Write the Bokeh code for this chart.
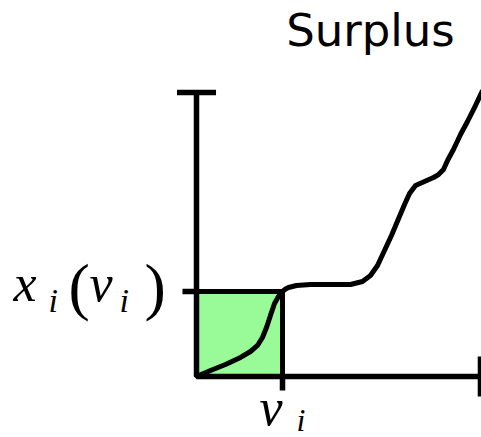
from bokeh.plotting import figure
from bokeh.models import Range1d
from bokeh.core.properties import value
from bokeh.embed import file_html
from bokeh.resources import INLINE

# Bid curve x_i(v) (value on the horizontal axis, allocation on the vertical one)
curve_v = [0.0, 0.163, 0.337, 0.512, 0.628, 0.709, 0.767, 0.814, 0.860, 0.907,
           0.953, 1.0, 1.035, 1.070, 1.163, 1.326, 1.558, 1.791, 1.930, 2.023,
           2.105, 2.186, 2.267, 2.360, 2.419, 2.477, 2.547, 2.651, 2.756, 2.814,
           2.872, 2.919, 2.988, 3.070, 3.151, 3.244, 3.326]
curve_x = [0.0, 0.071, 0.141, 0.224, 0.294, 0.365, 0.459, 0.576, 0.718, 0.859,
           0.941, 1.0, 1.029, 1.047, 1.071, 1.082, 1.082, 1.082, 1.118, 1.188,
           1.306, 1.482, 1.659, 1.882, 2.024, 2.153, 2.247, 2.294, 2.341, 2.376,
           2.435, 2.541, 2.671, 2.847, 3.0, 3.188, 3.365]

# Reported value and the resulting allocation
v_i = 1.0
x_i = 1.0

# Axis extents
axis_top = 3.341
axis_right = 3.302

PX_PER_X = 86.0
PX_PER_Y = 85.0
ORIGIN_PX = (196.0, 376.0)
W, H = 481, 437


def dx(px):
    return (px - ORIGIN_PX[0]) / PX_PER_X


def dy(py):
    return (ORIGIN_PX[1] - py) / PX_PER_Y


p = figure(width=W, height=H, output_backend="svg", toolbar_location=None,
           x_range=Range1d(dx(0), dx(W)), y_range=Range1d(dy(H), dy(0)),
           x_axis_type=None, y_axis_type=None, min_border=0,
           outline_line_color=None, background_fill_color="white",
           border_fill_color="white")
p.grid.visible = False

LW = 5.5
BLACK = "black"

# Surplus region under the allocation
p.quad(left=0, right=v_i, bottom=0, top=x_i, fill_color="#98fb98",
       line_color=BLACK, line_width=5)

# Axes with end caps
p.segment(x0=[0, 0], y0=[0, 0], x1=[0, axis_right], y1=[axis_top, 0],
          line_color=BLACK, line_width=LW)
p.segment(x0=[-0.227], y0=[axis_top], x1=[0.227], y1=[axis_top],
          line_color=BLACK, line_width=LW)
p.segment(x0=[axis_right], y0=[-0.235], x1=[axis_right], y1=[0.235],
          line_color=BLACK, line_width=LW)

# Ticks at x_i(v_i) and v_i
p.segment(x0=[-0.163, v_i], y0=[x_i, 0], x1=[0, v_i], y1=[x_i, -0.165],
          line_color=BLACK, line_width=LW)

# Allocation curve
p.line(curve_v, curve_x, line_color=BLACK, line_width=5, line_join="round")


def put(px, py, s, size, font, italic=False, align="left"):
    # py is the wanted baseline; the renderer draws "alphabetic" text a bit low
    p.text(x=[dx(px)], y=[dy(py - 0.385 * size)], text=[s], text_font=value(font),
           text_font_size=f"{size}px",
           text_font_style="italic" if italic else "normal",
           text_align=align, text_baseline="alphabetic", text_color=BLACK)


# Title
put(370, 47, "Surplus", 45, "DejaVu Sans", align="center")

SERIF = "Liberation Serif"

# Vertical tick label: x_i(v_i)
put(13, 303, "x", 52, SERIF, italic=True)
put(48, 313, "i", 34, SERIF, italic=True)
put(68, 311, "(", 64, SERIF)
put(89, 303, "v", 52, SERIF, italic=True)
put(119, 313, "i", 34, SERIF, italic=True)
put(144, 311, ")", 64, SERIF)

# Horizontal tick label: v_i
put(259, 427, "v", 52, SERIF, italic=True)
put(296, 432, "i", 32, SERIF, italic=True)

open("out.html", "w").write(file_html(p, INLINE))
